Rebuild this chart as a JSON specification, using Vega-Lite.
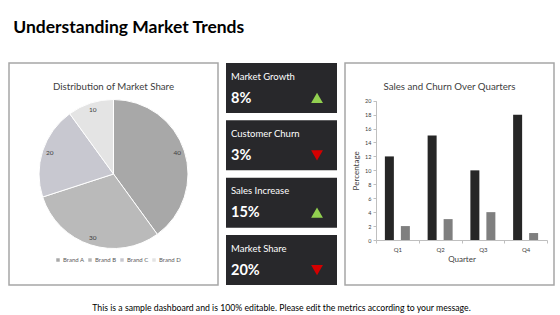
{
  "$schema": "https://vega.github.io/schema/vega-lite/v6.json",
  "background": "white",
  "padding": {"left": 8, "top": 18, "right": 9, "bottom": 0},
  "title": {
    "text": "Understanding Market Trends",
    "anchor": "start",
    "dx": 5,
    "font": "Lato",
    "fontSize": 17.5,
    "fontWeight": "bold",
    "color": "#000000",
    "offset": 26
  },
  "config": {
    "font": "Lato",
    "concat": {"spacing": 7}
  },
  "vconcat": [
    {
      "title": {
        "text": "This is a sample dashboard and is 100% editable. Please edit the metrics according to your message.",
        "orient": "bottom",
        "anchor": "middle",
        "fontSize": 8.7,
        "fontWeight": "normal",
        "color": "#000000",
        "offset": 18
      },
      "spacing": 7,
      "resolve": {
        "scale": {"color": "independent", "shape": "independent", "x": "independent", "y": "independent"},
        "legend": {"color": "independent", "shape": "independent"}
      },
      "hconcat": [
        {
          "width": 209,
          "height": 222,
          "view": {"stroke": "#a6a6a6", "strokeWidth": 1.5},
          "title": {
            "text": "Distribution of Market Share",
            "offset": -34,
            "anchor": "middle",
            "baseline": "middle",
            "fontSize": 9.7,
            "fontWeight": "normal",
            "color": "#404040"
          },
          "data": {
            "values": [
              {"brand": "Brand A", "share": 40},
              {"brand": "Brand B", "share": 30},
              {"brand": "Brand C", "share": 20},
              {"brand": "Brand D", "share": 10}
            ]
          },
          "encoding": {
            "theta": {"field": "share", "type": "quantitative", "stack": true},
            "order": {"field": "brand", "type": "nominal"}
          },
          "layer": [
            {
              "mark": {"type": "arc", "radius": 74.5, "stroke": "#ffffff", "strokeWidth": 1},
              "encoding": {
                "color": {
                  "field": "brand",
                  "type": "nominal",
                  "scale": {
                    "domain": ["Brand A", "Brand B", "Brand C", "Brand D"],
                    "range": ["#a8a8a8", "#bababa", "#c8c8d0", "#e4e4e4"]
                  },
                  "legend": {
                    "orient": "none",
                    "legendX": 46,
                    "legendY": 194,
                    "direction": "horizontal",
                    "title": null,
                    "symbolType": "square",
                    "symbolSize": 12,
                    "symbolStrokeWidth": 0,
                    "labelFontSize": 6,
                    "labelColor": "#595959",
                    "columnPadding": 2,
                    "labelOffset": 2
                  }
                }
              }
            },
            {
              "mark": {"type": "text", "radius": 67, "fontSize": 6.5, "color": "#404040"},
              "encoding": {"text": {"field": "share", "type": "quantitative"}}
            }
          ]
        },
        {
          "width": 111,
          "height": 222,
          "view": {"stroke": null},
          "data": {
            "values": [
              {"metric": "Market Growth", "value": "8%", "trend": "up"},
              {"metric": "Customer Churn", "value": "3%", "trend": "down"},
              {"metric": "Sales Increase", "value": "15%", "trend": "up"},
              {"metric": "Market Share", "value": "20%", "trend": "down"}
            ]
          },
          "encoding": {
            "y": {
              "field": "metric",
              "type": "nominal",
              "sort": null,
              "scale": {"paddingInner": 0.128, "paddingOuter": 0},
              "axis": null
            }
          },
          "layer": [
            {
              "mark": {"type": "rect", "color": "#28282b"},
              "encoding": {
                "x": {"datum": 0, "type": "quantitative", "scale": {"domain": [0, 1]}, "axis": null},
                "x2": {"datum": 1}
              }
            },
            {
              "mark": {"type": "text", "align": "left", "baseline": "middle", "dy": -11.3, "fontSize": 9.5, "color": "#ffffff"},
              "encoding": {
                "x": {"datum": 0.045, "type": "quantitative"},
                "text": {"field": "metric"}
              }
            },
            {
              "mark": {"type": "text", "align": "left", "baseline": "middle", "dy": 10.7, "fontSize": 14.5, "fontWeight": "bold", "color": "#ffffff"},
              "encoding": {
                "x": {"datum": 0.045, "type": "quantitative"},
                "text": {"field": "value"}
              }
            },
            {
              "mark": {"type": "point", "filled": true, "opacity": 1, "size": 140, "yOffset": 10},
              "encoding": {
                "x": {"datum": 0.82, "type": "quantitative"},
                "shape": {
                  "field": "trend",
                  "type": "nominal",
                  "scale": {"domain": ["up", "down"], "range": ["triangle-up", "triangle-down"]},
                  "legend": null
                },
                "color": {
                  "field": "trend",
                  "type": "nominal",
                  "scale": {"domain": ["up", "down"], "range": ["#92d050", "#d40000"]},
                  "legend": null
                }
              }
            }
          ]
        },
        {
          "width": 209,
          "height": 222,
          "view": {"stroke": "#a6a6a6", "strokeWidth": 1.5},
          "title": {
            "text": "Sales and Churn Over Quarters",
            "offset": -34,
            "anchor": "middle",
            "baseline": "middle",
            "fontSize": 9.7,
            "fontWeight": "normal",
            "color": "#404040"
          },
          "data": {
            "values": [
              {"quarter": "Q1", "series": "Sales", "pct": 12},
              {"quarter": "Q1", "series": "Churn", "pct": 2},
              {"quarter": "Q2", "series": "Sales", "pct": 15},
              {"quarter": "Q2", "series": "Churn", "pct": 3},
              {"quarter": "Q3", "series": "Sales", "pct": 10},
              {"quarter": "Q3", "series": "Churn", "pct": 4},
              {"quarter": "Q4", "series": "Sales", "pct": 18},
              {"quarter": "Q4", "series": "Churn", "pct": 1}
            ]
          },
          "mark": {"type": "bar"},
          "encoding": {
            "x": {
              "field": "quarter",
              "type": "nominal",
              "scale": {"range": [31, 202], "paddingInner": 0, "paddingOuter": 0},
              "axis": {
                "offset": -45,
                "title": "Quarter",
                "labelAngle": 0,
                "tickBand": "extent",
                "domainColor": "#bfbfbf",
                "tickColor": "#bfbfbf",
                "tickSize": 3,
                "labelFontSize": 6,
                "labelColor": "#404040",
                "labelPadding": 3,
                "titleFontSize": 8,
                "titleFontWeight": "normal",
                "titleColor": "#404040",
                "titlePadding": 3
              }
            },
            "xOffset": {
              "field": "series",
              "type": "nominal",
              "sort": ["Sales", "Churn"],
              "scale": {"paddingInner": 0.4375, "paddingOuter": 0.555}
            },
            "y": {
              "field": "pct",
              "type": "quantitative",
              "scale": {"domain": [0, 20], "range": [177, 37.7], "nice": false},
              "axis": {
                "offset": -31,
                "values": [0, 2, 4, 6, 8, 10, 12, 14, 16, 18, 20],
                "grid": false,
                "title": "Percentage",
                "domainColor": "#bfbfbf",
                "tickColor": "#bfbfbf",
                "tickSize": 3,
                "labelFontSize": 5.5,
                "labelColor": "#404040",
                "labelPadding": 2,
                "titleFontSize": 8,
                "titleFontWeight": "normal",
                "titleColor": "#404040",
                "titlePadding": 4
              }
            },
            "color": {
              "field": "series",
              "type": "nominal",
              "scale": {"domain": ["Sales", "Churn"], "range": ["#262626", "#7f7f7f"]},
              "legend": null
            }
          }
        }
      ]
    }
  ]
}
